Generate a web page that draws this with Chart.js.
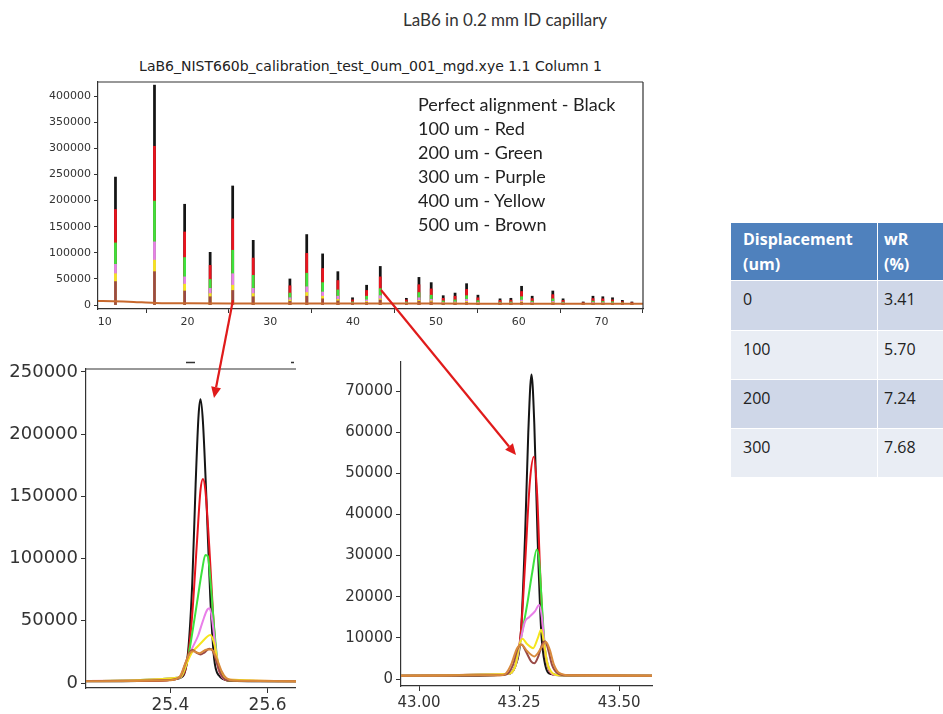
<!DOCTYPE html>
<html><head><meta charset="utf-8">
<script src="https://cdn.jsdelivr.net/npm/chart.js@4.4.0/dist/chart.umd.min.js"></script>
<style>
html,body{margin:0;padding:0;background:#fff}
body{width:943px;height:714px;position:relative;overflow:hidden;font-family:Lato,"Open Sans",sans-serif;color:#333}
.abs{position:absolute}
canvas{position:absolute}
#title{left:0;width:1010px;top:9px;text-align:center;font-size:17px}
#subtitle{left:98px;width:545px;top:58px;text-align:center;font-family:"DejaVu Sans",sans-serif;font-size:14px;color:#222;white-space:nowrap}
#legend{left:418px;top:92px;font-size:18px;line-height:24px;color:#222}
.cell{position:absolute;box-sizing:border-box;font-family:"Open Sans",sans-serif;font-size:16px;color:#222;padding:6px 0 0 12px;line-height:25px}
.hdr{background:#4f81bd;color:#fff;font-weight:bold;padding-top:4px}
</style></head><body>
<div id="title" class="abs">LaB6 in 0.2 mm ID capillary</div>
<div id="subtitle" class="abs">LaB6_NIST660b_calibration_test_0um_001_mgd.xye 1.1 Column 1</div>
<canvas id="cTop" width="660" height="270" style="left:0;top:70px"></canvas>
<div id="legend" class="abs"></div>
<canvas id="cLeft" width="296" height="359" style="left:0;top:355px"></canvas>
<canvas id="cRight" width="330" height="364" style="left:330px;top:350px"></canvas>
<div id="table"></div>
<canvas id="overlay" width="943" height="714" style="left:0;top:0;pointer-events:none"></canvas>
<script>
// ---------- DATA ----------
const legendLines = ["Perfect alignment - Black","100 um - Red","200 um - Green","300 um - Purple","400 um - Yellow","500 um - Brown"];

// Overview: peak positions (2theta) and peak heights per displacement
const peakPos  = [11.31,16.02,19.66,22.74,25.46,27.94,32.37,34.40,36.32,38.16,39.93,41.63,43.28,46.43,47.95,49.43,50.88,52.31,53.70,55.07,57.74,59.05,60.34,61.62,64.11,65.35,67.78,68.96,70.15,71.32,72.51,73.66];
const hBlack  = [245000,421000,193000,101000,228000,124000,50000,135000,98000,64000,14000,38000,74000,13000,53000,43000,18000,23000,41000,19000,12000,13000,36000,17000,27000,12000,6000,17000,16000,14000,9000,6000];
const hRed    = [183000,304000,140000,76000,165000,90000,37000,99000,70000,47000,10000,28000,54000,10000,39000,31000,13000,17000,30000,14000,9000,9500,26000,12500,20000,9000,4500,12500,12000,10000,6500,4500];
const hGreen  = [119000,199000,91000,49000,105000,57000,23000,61000,43000,29000,6000,17000,31500,6000,24000,19000,8000,10000,18000,8500,5500,6000,16000,7500,12000,5500,3500,7500,7000,6500,4500,3500];
const hViolet = [78000,121000,54000,32000,60000,32000,14000,35000,25000,17000,4000,10000,18000,4000,14000,11000,5000,6000,11000,5000,4000,4000,9500,5000,7000,4000,3000,5000,4500,4000,3500,3000];
const hYellow = [60000,86000,40000,22000,38000,22000,10000,24000,17000,11000,3000,7000,12000,3000,9000,8000,4000,4500,7000,4000,3000,3000,6500,3500,5000,3000,2500,3500,3500,3000,2500,2500];
const hBrown  = [45000,64000,27000,16000,28000,16000,7000,17000,12000,8000,2500,5000,9500,2500,7000,6000,3000,3500,5000,3000,2500,2500,5000,3000,4000,2500,2000,3000,3000,2500,2000,2000];
const bgPos = [9.2,11.0,13.5,16.0,20,30,40,50,60,70,75];
const bgVal = [7800,7400,6000,4200,3300,3000,2900,2800,2700,2600,2600];
const topYTicks = [0,50000,100000,150000,200000,250000,300000,350000,400000];
const topXTicks = [10,20,30,40,50,60,70];

// Zoom on 25.46 peak: [2theta, counts]
const zA_black  = [[25.20,1500],[25.30,1500],[25.38,2000],[25.42,4000],[25.435,20000],[25.445,80000],[25.452,160000],[25.458,215000],[25.462,228000],[25.467,210000],[25.474,150000],[25.482,70000],[25.490,20000],[25.500,6000],[25.52,2000],[25.56,1500],[25.68,1500]];
const zA_red    = [[25.20,1500],[25.38,2000],[25.42,4500],[25.435,18000],[25.445,55000],[25.455,115000],[25.462,155000],[25.467,164000],[25.472,155000],[25.480,110000],[25.488,55000],[25.495,20000],[25.505,6000],[25.52,2000],[25.68,1500]];
const zA_green  = [[25.20,1500],[25.42,4500],[25.435,18000],[25.445,40000],[25.455,65000],[25.465,90000],[25.472,103000],[25.477,102000],[25.483,80000],[25.490,45000],[25.497,18000],[25.507,6000],[25.52,2000],[25.68,1500]];
const zA_violet = [[25.20,1500],[25.42,4500],[25.435,18000],[25.445,28000],[25.457,38000],[25.467,50000],[25.476,59000],[25.481,60000],[25.487,48000],[25.494,25000],[25.502,9000],[25.512,3000],[25.68,1500]];
const zA_yellow = [[25.20,1500],[25.42,4500],[25.435,17000],[25.445,25000],[25.455,29000],[25.465,33000],[25.475,37000],[25.482,38500],[25.490,32000],[25.497,18000],[25.505,8000],[25.515,3000],[25.68,1500]];
const zA_brown  = [[25.20,1500],[25.40,2500],[25.42,5000],[25.432,17000],[25.440,25000],[25.446,26500],[25.455,24000],[25.462,23000],[25.470,24500],[25.480,27500],[25.487,26000],[25.495,17000],[25.503,8000],[25.512,3000],[25.53,1800],[25.68,1500]];
const zA_orange = [[25.20,1500],[25.40,2300],[25.42,5500],[25.430,15000],[25.440,24000],[25.447,25500],[25.460,24000],[25.475,27000],[25.485,27000],[25.495,20000],[25.505,10000],[25.515,4000],[25.53,2000],[25.68,1500]];
const zA_yTicks = [0,50000,100000,150000,200000,250000];
const zA_xTicks = [25.4,25.6];

// Zoom on 43.28 peak
const zB_black  = [[42.90,800],[43.15,800],[43.22,1200],[43.24,3000],[43.255,12000],[43.265,35000],[43.273,60000],[43.281,74000],[43.288,62000],[43.296,35000],[43.305,12000],[43.315,3500],[43.33,1200],[43.38,800],[43.62,800]];
const zB_red    = [[42.90,800],[43.22,1200],[43.24,3000],[43.255,12000],[43.265,28000],[43.277,48000],[43.287,54000],[43.295,45000],[43.303,25000],[43.312,9000],[43.322,3000],[43.34,1000],[43.62,800]];
const zB_green  = [[42.90,800],[43.22,1200],[43.24,3000],[43.255,10000],[43.270,18000],[43.283,26000],[43.294,31500],[43.300,29000],[43.307,18000],[43.315,7000],[43.325,2500],[43.34,1000],[43.62,800]];
const zB_violet = [[42.90,800],[43.22,1200],[43.24,3000],[43.255,10000],[43.265,14000],[43.275,15000],[43.290,16500],[43.300,18000],[43.307,15000],[43.315,7000],[43.325,2500],[43.34,1000],[43.62,800]];
const zB_yellow = [[42.90,800],[43.22,1200],[43.24,3000],[43.250,8000],[43.258,9800],[43.270,8500],[43.285,7500],[43.297,10000],[43.305,12000],[43.312,9000],[43.320,4000],[43.330,1800],[43.35,900],[43.62,800]];
const zB_brown  = [[42.90,800],[43.20,900],[43.22,1200],[43.235,3500],[43.247,7500],[43.256,8400],[43.268,6500],[43.280,4300],[43.288,3800],[43.298,5500],[43.308,8500],[43.315,9200],[43.323,7000],[43.332,3500],[43.345,1500],[43.37,900],[43.62,800]];
const zB_orange = [[42.90,800],[43.20,900],[43.215,1200],[43.230,3500],[43.245,7500],[43.256,8300],[43.270,6800],[43.288,5500],[43.305,7500],[43.317,9000],[43.327,7000],[43.337,3500],[43.35,1500],[43.38,900],[43.62,800]];
const zB_yTicks = [0,10000,20000,30000,40000,50000,60000,70000];
const zB_xTicks = [43.00,43.25,43.50];

const tblHead = ["Displacement\n(um)","wR\n(%)"];
const tblDisp = ["0","100","200","300"];
const tblWR   = ["3.41","5.70","7.24","7.68"];

// ---------- STYLE ----------
const COL = {black:'#151515', red:'#e8141e', green:'#3de23d', violet:'#e97fe9', yellow:'#f5e51e', brown:'#9a4a46', orange:'#d98a3c'};
const AX = '#333';

const framePlugin = {
  id:'frame',
  afterDraw(chart, args, opts){
    if(!opts || !opts.sides) return;
    const {ctx, chartArea:a} = chart;
    ctx.save(); ctx.strokeStyle = AX; ctx.lineWidth = 1.2; ctx.beginPath();
    if(opts.sides.includes('top')){ctx.moveTo(a.left, a.top); ctx.lineTo(a.right, a.top);}
    if(opts.sides.includes('right')){ctx.moveTo(a.right, a.top); ctx.lineTo(a.right, a.bottom);}
    ctx.stroke(); ctx.restore();
  }
};
Chart.register(framePlugin);

function axis(opts){
  const o = {
    type:'linear', min:opts.min, max:opts.max, offset:false,
    border:{display:true, color:AX, width:1.2},
    grid:{drawOnChartArea:false, drawTicks:true, tickLength:opts.tickLen||4, color:AX},
    ticks:{color:'#333', font:{family:'DejaVu Sans', size:opts.font}, padding:opts.pad||2, maxRotation:0, autoSkip:false,
           callback:opts.fmt||(v=>String(v))},
    afterBuildTicks:(s)=>{ s.ticks = opts.ticks.map(v=>({value:v})); },
  };
  if(opts.width) o.afterFit = (s)=>{ s.width = opts.width; };
  if(opts.height) o.afterFit = (s)=>{ s.height = opts.height; };
  return o;
}

const base = {responsive:false, animation:false, devicePixelRatio:1,
  plugins:{legend:{display:false}, tooltip:{enabled:false}, title:{display:false}}};

// ---------- TOP OVERVIEW ----------
const spikeSets = [
  ['black',hBlack,7],['red',hRed,6],['green',hGreen,5],['violet',hViolet,4],['yellow',hYellow,3],['brown',hBrown,2]
].map(([c,h,o])=>({type:'bar', data:peakPos.map((p,i)=>({x:p,y:h[i]})), backgroundColor:COL[c], borderWidth:0,
   barThickness:2.1, grouped:false, order:o}));
spikeSets.push({type:'line', data:bgPos.map((p,i)=>({x:p,y:bgVal[i]})), borderColor:'#c8692e', borderWidth:2, pointRadius:0, order:1, tension:0.3});

new Chart(document.getElementById('cTop'), {
  type:'bar',
  data:{datasets:spikeSets},
  options:Object.assign({}, base, {
    layout:{padding:{left:0,right:17,top:12,bottom:0}},
    plugins:Object.assign({}, base.plugins, {frame:{sides:['top','right']}}),
    scales:{
      x:axis({min:9.2,max:75,ticks:topXTicks,font:11,height:31,tickLen:4,pad:3}),
      y:axis({min:-7500,max:427000,ticks:topYTicks,font:11,width:98,tickLen:4,pad:3})
    }
  })
});

document.getElementById('legend').innerHTML = legendLines.map(t=>'<div>'+t+'</div>').join('');

// ---------- ZOOM PANELS ----------
function lineSets(list){
  return list.map(([c,d,o])=>({data:d.map(p=>({x:p[0],y:p[1]})), borderColor:COL[c], borderWidth:2, pointRadius:0,
    cubicInterpolationMode:'monotone', order:o, fill:false}));
}
new Chart(document.getElementById('cLeft'), {
  type:'line',
  data:{datasets:lineSets([['black',zA_black,7],['red',zA_red,6],['green',zA_green,5],['violet',zA_violet,4],['yellow',zA_yellow,3],['brown',zA_brown,2],['orange',zA_orange,1]])},
  options:Object.assign({}, base, {
    layout:{padding:{left:0,right:0,top:14,bottom:0}},
    plugins:Object.assign({}, base.plugins, {frame:{sides:['top']}}),
    scales:{
      x:axis({min:25.2263,max:25.6586,ticks:zA_xTicks,font:17,height:26,tickLen:5,pad:2,fmt:v=>v.toFixed(1)}),
      y:axis({min:-4000,max:252400,ticks:zA_yTicks,font:18,width:86,tickLen:5,pad:3})
    }
  })
});
new Chart(document.getElementById('cRight'), {
  type:'line',
  data:{datasets:lineSets([['black',zB_black,7],['red',zB_red,6],['green',zB_green,5],['violet',zB_violet,4],['yellow',zB_yellow,3],['brown',zB_brown,2],['orange',zB_orange,1]])},
  options:Object.assign({}, base, {
    layout:{padding:{left:0,right:8,top:12,bottom:0}},
    scales:{
      x:axis({min:42.955,max:43.582,ticks:zB_xTicks,font:15,height:28,tickLen:5,pad:3,fmt:v=>v.toFixed(2)}),
      y:axis({min:-1700,max:77050,ticks:zB_yTicks,font:15,width:71,tickLen:5,pad:3})
    }
  })
});

// ---------- TABLE ----------
(function(){
  const t = document.getElementById('table');
  const colX = [731, 878], colW = [146, 65];
  const rowY = [223, 281, 331, 380, 429], rowH = [57, 49, 48, 48, 48];
  const bgs = ['#cfd7e8','#e9edf4','#cfd7e8','#e9edf4'];
  let html = '';
  tblHead.forEach((h,j)=>{
    html += `<div class="cell hdr" style="left:${colX[j]}px;top:${rowY[0]}px;width:${colW[j]}px;height:${rowH[0]}px;padding-left:${j?6:12}px">${h.replace('\n','<br>')}</div>`;
  });
  tblDisp.forEach((d,i)=>{
    [d, tblWR[i]].forEach((v,j)=>{
      html += `<div class="cell" style="left:${colX[j]}px;top:${rowY[i+1]}px;width:${colW[j]}px;height:${rowH[i+1]}px;background:${bgs[i]};padding-left:${j?6:12}px">${v}</div>`;
    });
  });
  t.innerHTML = html;
})();

// ---------- ARROWS + crop remnants (annotation) ----------
(function(){
  const ctx = document.getElementById('overlay').getContext('2d');
  function arrow(x1,y1,x2,y2){
    const ang = Math.atan2(y2-y1, x2-x1), L = 11, W = 5;
    ctx.strokeStyle = '#e01b1b'; ctx.fillStyle = '#e01b1b'; ctx.lineWidth = 2.2;
    ctx.beginPath(); ctx.moveTo(x1,y1);
    ctx.lineTo(x2 - L*Math.cos(ang), y2 - L*Math.sin(ang)); ctx.stroke();
    ctx.beginPath(); ctx.moveTo(x2,y2);
    ctx.lineTo(x2 - L*Math.cos(ang) + W*Math.sin(ang), y2 - L*Math.sin(ang) - W*Math.cos(ang));
    ctx.lineTo(x2 - L*Math.cos(ang) - W*Math.sin(ang), y2 - L*Math.sin(ang) + W*Math.cos(ang));
    ctx.closePath(); ctx.fill();
  }
  ctx.strokeStyle = '#333'; ctx.lineWidth = 1.5;
  ctx.beginPath(); ctx.moveTo(186, 362.5); ctx.lineTo(195, 362.5); ctx.moveTo(291, 362.5); ctx.lineTo(294, 362.5); ctx.stroke();
  arrow(233, 300, 214, 398);
  arrow(381, 290, 516, 455);
})();
</script>
</body></html>
